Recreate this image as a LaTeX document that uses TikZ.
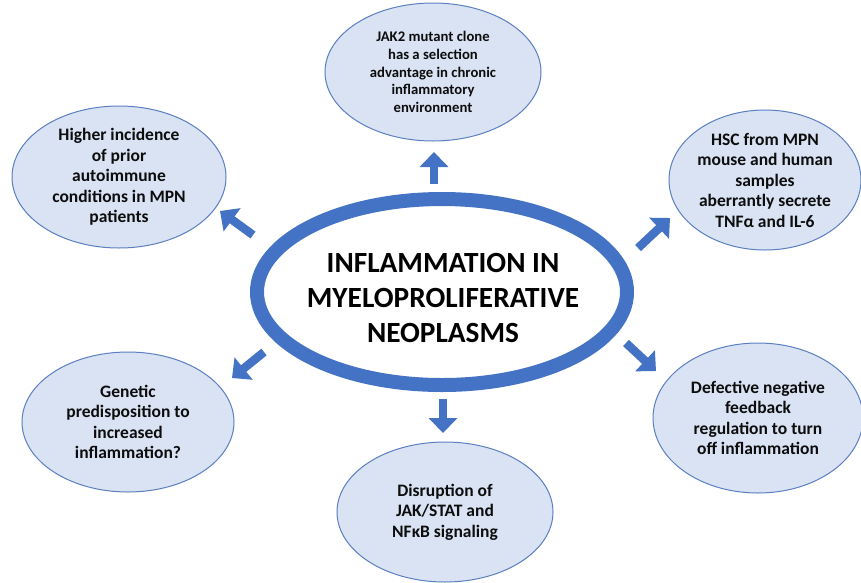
\documentclass[tikz,border=0pt]{standalone}
\usepackage{fontspec}
\setmainfont{Carlito}
\usetikzlibrary{shapes.geometric,arrows.meta}
\definecolor{ringblue}{HTML}{4472C4}
\definecolor{bubblefill}{HTML}{DAE3F3}
\definecolor{bubbleedge}{HTML}{5B7FC0}
\tikzset{
  bubble/.style={ellipse, draw=bubbleedge, line width=1pt, fill=bubblefill, inner sep=0pt, align=center,
    font=\bfseries\fontsize{17.5}{20.5}\selectfont, text=black!95},
  smallbubble/.style={bubble, font=\bfseries\fontsize{14.7}{17.6}\selectfont},
  hub/.style={ellipse, draw=ringblue, line width=14pt, fill=white, inner sep=0pt},
  hubtext/.style={align=center, inner sep=0pt, font=\bfseries\fontsize{29.3}{35}\selectfont, text=black},
  blockarrow/.style={draw=ringblue, line width=8.5pt, -{Triangle[width=28pt,length=15pt]}, color=ringblue}
}
\begin{document}
\begin{tikzpicture}[x=1pt,y=-1pt]
\useasboundingbox (0,0) rectangle (861,582);
\fill[white] (0,0) rectangle (861,582);

\node[hub, minimum width=370pt, minimum height=186pt] (hub) at (442,292) {};
\node[hubtext] (hubtext) at (443,298) {INFLAMMATION IN\\MYELOPROLIFERATIVE\\NEOPLASMS};

\node[smallbubble, minimum width=216pt, minimum height=138pt] (top) at (433,72)
  {JAK2 mutant clone\\has a selection\\advantage in chronic\\inflammatory\\environment};
\node[bubble, minimum width=214pt, minimum height=142pt] (ul) at (119,177)
  {Higher incidence\\of prior\\autoimmune\\conditions in MPN\\patients};
\node[bubble, minimum width=192pt, minimum height=140pt] (ur) at (765,180)
  {HSC from MPN\\mouse and human\\samples\\aberrantly secrete\\TNFα and IL-6};
\node[bubble, minimum width=212pt, minimum height=140pt] (ll) at (128,422)
  {Genetic\\predisposition to\\increased\\inflammation?};
\node[bubble, minimum width=210pt, minimum height=150pt] (lr) at (758,418)
  {Defective negative\\feedback\\regulation to turn\\off inflammation};
\node[bubble, minimum width=216pt, minimum height=140pt] (bot) at (445,512)
  {Disruption of\\JAK/STAT and\\NFκB signaling};

\coordinate (tTail) at (434,184); \coordinate (tTip) at (434,152);
\coordinate (bTail) at (443,399); \coordinate (bTip) at (443,433);
\coordinate (ulTail) at (253,235); \coordinate (ulTip) at (220,211);
\coordinate (urTail) at (638,248); \coordinate (urTip) at (670,218);
\coordinate (llTail) at (264,352); \coordinate (llTip) at (232,378);
\coordinate (lrTail) at (626,343); \coordinate (lrTip) at (656,371);

\draw[blockarrow] (tTail) -- (tTip);
\draw[blockarrow] (bTail) -- (bTip);
\draw[blockarrow] (ulTail) -- (ulTip);
\draw[blockarrow] (urTail) -- (urTip);
\draw[blockarrow] (llTail) -- (llTip);
\draw[blockarrow] (lrTail) -- (lrTip);
\end{tikzpicture}
\end{document}
